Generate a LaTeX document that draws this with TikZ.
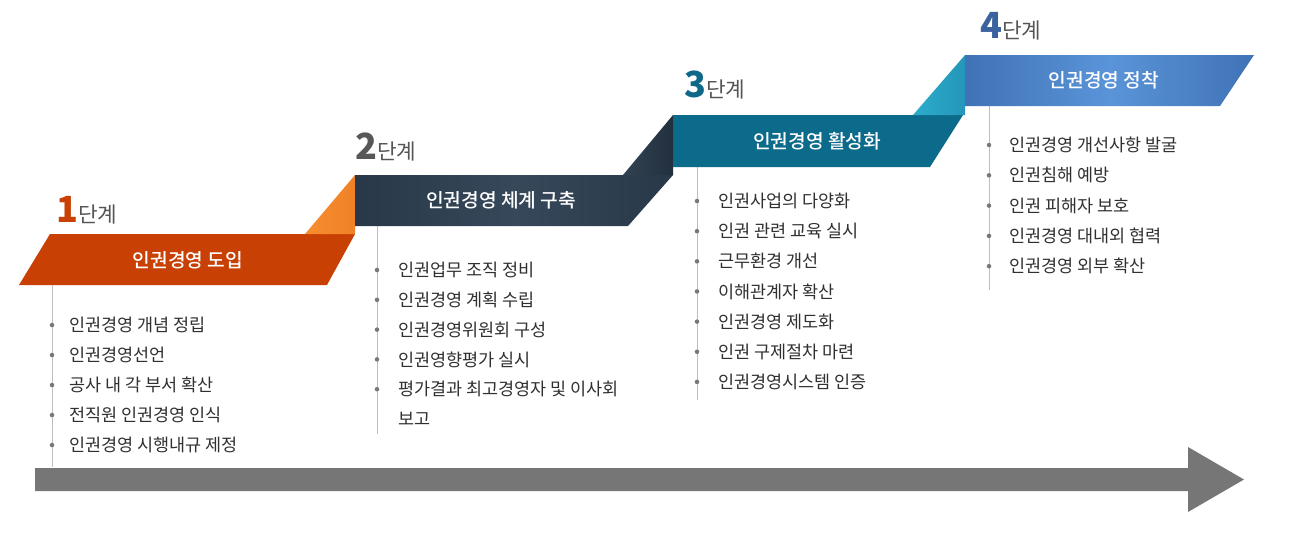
\documentclass[tikz,border=0pt]{standalone}
\usepackage{fontspec}
\setmainfont{Noto Sans CJK KR}
\newfontfamily\krmed{Noto Sans CJK KR Medium}
\definecolor{bannerA}{RGB}{200,64,4}
\definecolor{foldA}{RGB}{240,128,38}
\definecolor{foldAl}{RGB}{246,142,48}
\definecolor{bannerB}{RGB}{40,56,72}
\definecolor{bannerBm}{RGB}{54,72,90}
\definecolor{foldB}{RGB}{50,66,82}
\definecolor{foldBd}{RGB}{34,48,62}
\definecolor{bannerC}{RGB}{12,106,138}
\definecolor{foldC}{RGB}{44,172,202}
\definecolor{foldCd}{RGB}{36,150,185}
\definecolor{bannerD}{RGB}{64,114,182}
\definecolor{bannerDm}{RGB}{90,148,216}
\definecolor{numA}{RGB}{200,64,4}
\definecolor{numB}{RGB}{88,88,88}
\definecolor{numC}{RGB}{14,104,136}
\definecolor{numD}{RGB}{58,98,158}
\definecolor{stepgray}{RGB}{85,85,85}
\definecolor{txt}{RGB}{48,48,48}
\definecolor{bulletc}{RGB}{120,120,120}
\definecolor{vlinec}{RGB}{190,190,190}
\definecolor{arrowgray}{RGB}{118,118,118}
\begin{document}
\begin{tikzpicture}[x=0.75pt,y=-0.75pt,
  item/.style={anchor=west, font=\fontsize{13.1pt}{15pt}\selectfont, text=txt, inner sep=0pt},
  titletext/.style={font=\krmed\fontsize{14.4pt}{16pt}\selectfont, text=white, inner sep=0pt},
  steplabel/.style={anchor=base west, inner sep=0pt},
  vline/.style={draw=vlinec, line width=0.75pt},
  dot/.style={fill=bulletc}]
\useasboundingbox (0,0) rectangle (1291,540);

% big arrow
\fill[arrowgray] (35,468) -- (1188,468) -- (1188,447) -- (1244,479.5) -- (1188,512) -- (1188,491) -- (35,491) -- cycle;

% vertical lines
\draw[vline] (52,285) -- (52,467);
\draw[vline] (377,226) -- (377,434);
\draw[vline] (697,167) -- (697,400);
\draw[vline] (989,106) -- (989,290);

% banners
\fill[bannerA] (50,234) -- (355,234) -- (327,285) -- (19,285) -- cycle;
\shade[left color=foldAl, right color=foldA] (305,234) -- (355,234) -- (355,175) -- cycle;
\shade[left color=bannerB, right color=bannerB, middle color=bannerBm] (355,175) -- (673,175) -- (628,226) -- (355,226) -- cycle;
\shade[left color=foldB, right color=foldBd] (623,175) -- (673,175) -- (673,115) -- cycle;
\fill[bannerC] (673,115) -- (963,115) -- (930,167) -- (673,167) -- cycle;
\shade[left color=foldC, right color=foldCd] (913,115) -- (965,115) -- (965,55) -- cycle;
\shade[left color=bannerD, right color=bannerD, middle color=bannerDm] (965,55) -- (1254,55) -- (1220,106) -- (965,106) -- cycle;

% titles
\node[titletext] (t1) at (188,260) {인권경영 도입};
\node[titletext] (t2) at (501,200) {인권경영 체계 구축};
\node[titletext] (t3) at (817,141) {인권경영 활성화};
\node[titletext] (t4) at (1104,80) {인권경영 정착};

% step labels
\node[steplabel] (s1) at (56,222) {{\fontsize{27pt}{27pt}\bfseries\color{numA}1}{\fontsize{16pt}{18pt}\selectfont\color{stepgray}단계}};
\node[steplabel] (s2) at (355,159) {{\fontsize{27pt}{27pt}\bfseries\color{numB}2}{\fontsize{16pt}{18pt}\selectfont\color{stepgray}단계}};
\node[steplabel] (s3) at (684,97) {{\fontsize{27pt}{27pt}\bfseries\color{numC}3}{\fontsize{16pt}{18pt}\selectfont\color{stepgray}단계}};
\node[steplabel] (s4) at (980,38) {{\fontsize{27pt}{27pt}\bfseries\color{numD}4}{\fontsize{16pt}{18pt}\selectfont\color{stepgray}단계}};

% column 1
\foreach \t [count=\i from 0] in {인권경영 개념 정립, 인권경영선언, 공사 내 각 부서 확산, 전직원 인권경영 인식, 인권경영 시행내규 제정}{
  \fill[dot] (52,325+30*\i) circle[radius=1.7pt];
  \node[item] (a\i) at (69,325+30*\i) {\t};
}
% column 2
\foreach \t [count=\i from 0] in {인권업무 조직 정비, 인권경영 계획 수립, 인권경영위원회 구성, 인권영향평가 실시, 평가결과 최고경영자 및 이사회}{
  \fill[dot] (377,270+29.8*\i) circle[radius=1.7pt];
  \node[item] (b\i) at (398,270+29.8*\i) {\t};
}
\node[item] (b5) at (398,419) {보고};
% column 3
\foreach \t [count=\i from 0] in {인권사업의 다양화, 인권 관련 교육 실시, 근무환경 개선, 이해관계자 확산, 인권경영 제도화, 인권 구제절차 마련, 인권경영시스템 인증}{
  \fill[dot] (697,201+30.15*\i) circle[radius=1.7pt];
  \node[item] (c\i) at (718,201+30.15*\i) {\t};
}
% column 4
\foreach \t [count=\i from 0] in {인권경영 개선사항 발굴, 인권침해 예방, 인권 피해자 보호, 인권경영 대내외 협력, 인권경영 외부 확산}{
  \fill[dot] (989,145+30.3*\i) circle[radius=1.7pt];
  \node[item] (d\i) at (1009,145+30.3*\i) {\t};
}
\end{tikzpicture}
\end{document}
